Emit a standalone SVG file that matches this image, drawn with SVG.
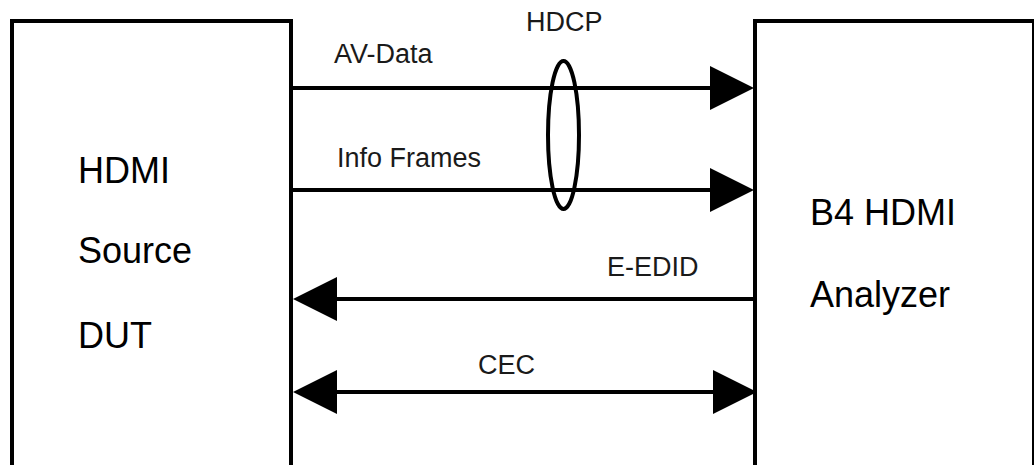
<svg xmlns="http://www.w3.org/2000/svg" width="1034" height="465" viewBox="0 0 1034 465">
  <style>
    .box { fill: #ffffff; stroke: #000000; stroke-width: 4; }
    .conn { stroke: #000000; stroke-width: 4; fill: none; }
    .lbl { font-family: "Liberation Sans", Arial, sans-serif; font-size: 27px; fill: #1a1a1a; }
    .big { font-family: "Liberation Sans", Arial, sans-serif; font-size: 36px; fill: #000000; }
  </style>
  <defs>
    <marker id="ah" markerUnits="userSpaceOnUse" markerWidth="44" markerHeight="44" viewBox="0 0 42 42" refX="0" refY="21" orient="auto-start-reverse">
      <path d="M0,0 L42,21 L0,42 Z" fill="#000000"/>
    </marker>
  </defs>
  <rect x="0" y="0" width="1034" height="465" fill="#ffffff"/>
  <g id="source">
    <rect class="box" x="12" y="21" width="279" height="470"/>
    <text class="big" x="78" y="183">HDMI</text>
    <text class="big" x="78" y="263">Source</text>
    <text class="big" x="78" y="348">DUT</text>
  </g>
  <g id="analyzer">
    <rect class="box" x="755" y="21" width="279" height="470"/>
    <text class="big" x="810" y="225">B4 HDMI</text>
    <text class="big" x="810" y="307">Analyzer</text>
  </g>
  <g id="connectors">
    <line class="conn" x1="291" y1="88" x2="710" y2="88" marker-end="url(#ah)"/>
    <line class="conn" x1="291" y1="190" x2="710" y2="190" marker-end="url(#ah)"/>
    <line class="conn" x1="755" y1="299" x2="337" y2="299" marker-end="url(#ah)"/>
    <line class="conn" x1="337" y1="392" x2="713" y2="392" marker-start="url(#ah)" marker-end="url(#ah)"/>
  </g>
  <g id="hdcp">
    <ellipse class="conn" cx="563.5" cy="135" rx="15.5" ry="74" stroke-width="3.5"/>
    <text class="lbl" x="526" y="31">HDCP</text>
  </g>
  <g id="labels">
    <text class="lbl" x="334" y="63">AV-Data</text>
    <text class="lbl" x="337" y="167">Info Frames</text>
    <text class="lbl" x="607" y="276">E-EDID</text>
    <text class="lbl" x="478" y="374">CEC</text>
  </g>
</svg>
